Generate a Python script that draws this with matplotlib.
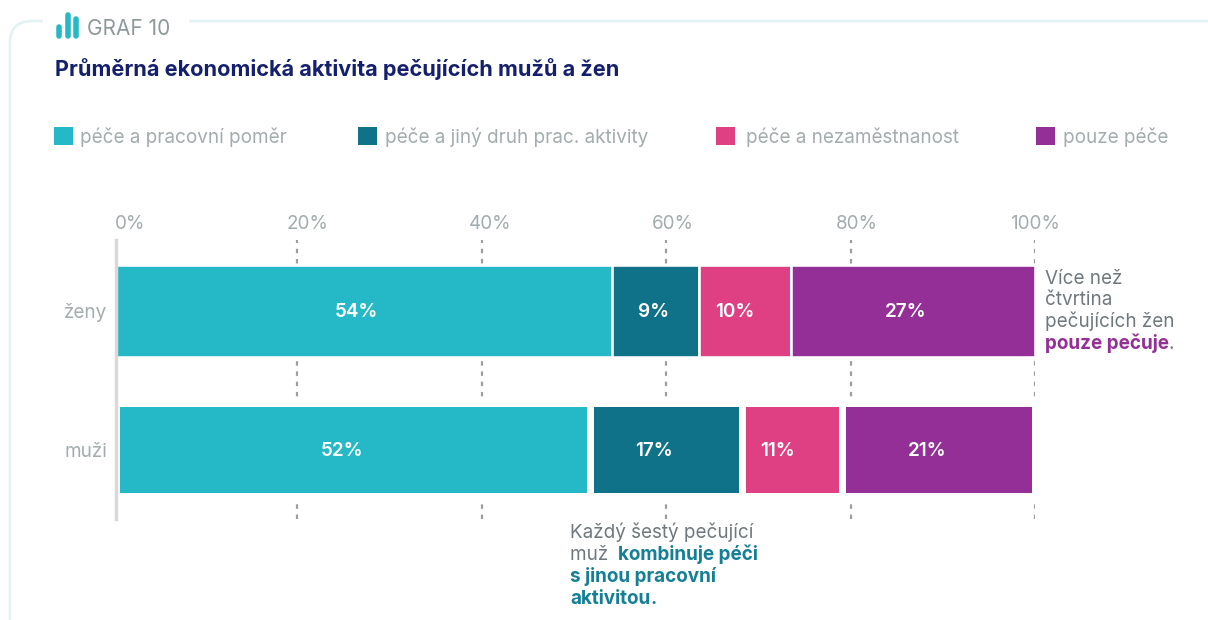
import matplotlib
matplotlib.use("Agg")
import matplotlib.pyplot as plt
from matplotlib.patches import FancyBboxPatch, Rectangle
from matplotlib.lines import Line2D

W, H = 1208, 620
FONT = "Inter"
plt.rcParams["font.family"] = [FONT, "DejaVu Sans"]

categories = ["ženy", "muži"]
series_names = ["péče a pracovní poměr", "péče a jiný druh prac. aktivity",
                "péče a nezaměstnanost", "pouze péče"]
colors = ["#25B9C8", "#0F7289", "#DF4083", "#932F97"]
values_zeny = [54.0, 9.4, 10.1, 26.5]
values_muzi = [51.6, 16.5, 10.9, 21.0]
labels_zeny = ["54%", "9%", "10%", "27%"]
labels_muzi = ["52%", "17%", "11%", "21%"]
ticks = [0, 20, 40, 60, 80, 100]
tick_labels = ["0%", "20%", "40%", "60%", "80%", "100%"]

GREY = "#A3ACAF"
DARK = "#6F797D"
NAVY = "#14206E"

fig = plt.figure(figsize=(W / 100, H / 100), dpi=100, facecolor="white")

def px(x0, ytop, x1, ybot):
    return [x0 / W, 1 - ybot / H, (x1 - x0) / W, (ybot - ytop) / H]

# overlay in pixel coordinates, y downwards
bg = fig.add_axes([0, 0, 1, 1])
bg.set_xlim(0, W); bg.set_ylim(H, 0); bg.axis("off")
bg.add_patch(FancyBboxPatch((10, 21), 1240, 640, boxstyle="round,pad=0,rounding_size=22",
                            fc="none", ec="#E3F2F5", lw=1.9))
bg.add_patch(Rectangle((43, 10), 146, 22, fc="white", ec="none"))
for x, top in zip([58.5, 67.5, 76], [27, 15, 19]):
    bg.add_line(Line2D([x, x], [top, 36], color="#25B9C8", lw=4.0, solid_capstyle="round"))

def ptext(x, y, s, **kw):
    kw.setdefault("va", "baseline")
    return bg.text(x, y, s, **kw)

ptext(87, 35, "GRAF 10", fontsize=15, color="#8E999C")
ptext(55, 76, "Průměrná ekonomická aktivita pečujících mužů a žen",
      fontsize=15.6, fontweight="bold", color=NAVY)

for sx, tx, name, c in zip([54, 358, 716, 1036], [80, 385, 746, 1063], series_names, colors):
    bg.add_patch(Rectangle((sx, 127), 18.5, 18, fc=c, ec="none"))
    ptext(tx, 143, name, fontsize=13.6, color=GREY)

# gridlines
gax = fig.add_axes(px(112.5, 240, 1035, 519), facecolor="none")
gax.set_xlim(0, 100); gax.set_ylim(0, 1); gax.axis("off")
for t in ticks[1:]:
    gax.axvline(t, color="#9A9FA2", lw=1.6, dashes=(2.0, 2.6), zorder=1)

offs = [17.5, 11, 9, 7, 6.5, 0]
for t, lab, o in zip(ticks, tick_labels, offs):
    gax.annotate(lab, (t, 1), xytext=(o, 7), textcoords="offset pixels", xycoords=("data", "axes fraction"),
                 ha="center", va="bottom", fontsize=13.6, color=GREY)

# bars
ax = fig.add_axes(px(115.7, 240, 1035, 519), facecolor="none")
ax.set_xlim(0, 100)
ax.set_ylim(519, 240)
rows = [(311, 92, 2.6, values_zeny, labels_zeny, [-7, -2, -10, -7.5]),
        (449.7, 92.6, 7, values_muzi, labels_muzi, [-11, -11.5, -14, -11])]
for y, h, edge, vals, labs, los in zip([r[0] for r in rows], [r[1] for r in rows], [r[2] for r in rows],
                                       [r[3] for r in rows], [r[4] for r in rows], [r[5] for r in rows]):
    left = 0
    for v, c, l, o in zip(vals, colors, labs, los):
        ax.barh(y, v, left=left, height=h, color=c, edgecolor="white", linewidth=edge * 0.72, zorder=2)
        ax.annotate(l, (left + v / 2, y), xytext=(o, -1), textcoords="offset pixels",
                    ha="center", va="center", color="white", fontsize=13.6, fontweight="semibold", zorder=3)
        left += v
for s in ["top", "right", "bottom"]:
    ax.spines[s].set_visible(False)
ax.spines["left"].set_color("#D9D9D9")
ax.spines["left"].set_linewidth(2.5)
ax.set_xticks([])
ax.set_yticks([r[0] for r in rows])
ax.set_yticklabels(categories, fontsize=13.6, color=GREY)
ax.tick_params(axis="y", length=0, pad=6)

# annotations with mixed weight
fig.canvas.draw()
rend = fig.canvas.get_renderer()

def runs(x, y, parts, size=13.6):
    for s, col, w in parts:
        t = ptext(x, y, s, fontsize=size, color=col, fontweight=w)
        x = t.get_window_extent(rend).x1 + (4.5 if s.endswith(" ") else 0)

TEAL = "#157F95"
PURP = "#932F97"
runs(1045, 284, [("Více než", DARK, "normal")])
runs(1045, 305, [("čtvrtina", DARK, "normal")])
runs(1045, 327, [("pečujících žen", DARK, "normal")])
runs(1045, 349, [("pouze pečuje", PURP, "bold"), (".", DARK, "normal")])
runs(570, 538, [("Každý šestý pečující", DARK, "normal")])
runs(570, 560, [("muž ", DARK, "normal"), ("kombinuje péči", TEAL, "bold")])
runs(570, 582, [("s jinou pracovní", TEAL, "bold")])
runs(570, 604, [("aktivitou", TEAL, "bold"), (".", TEAL, "bold")])

fig.savefig("out.png", dpi=100)
